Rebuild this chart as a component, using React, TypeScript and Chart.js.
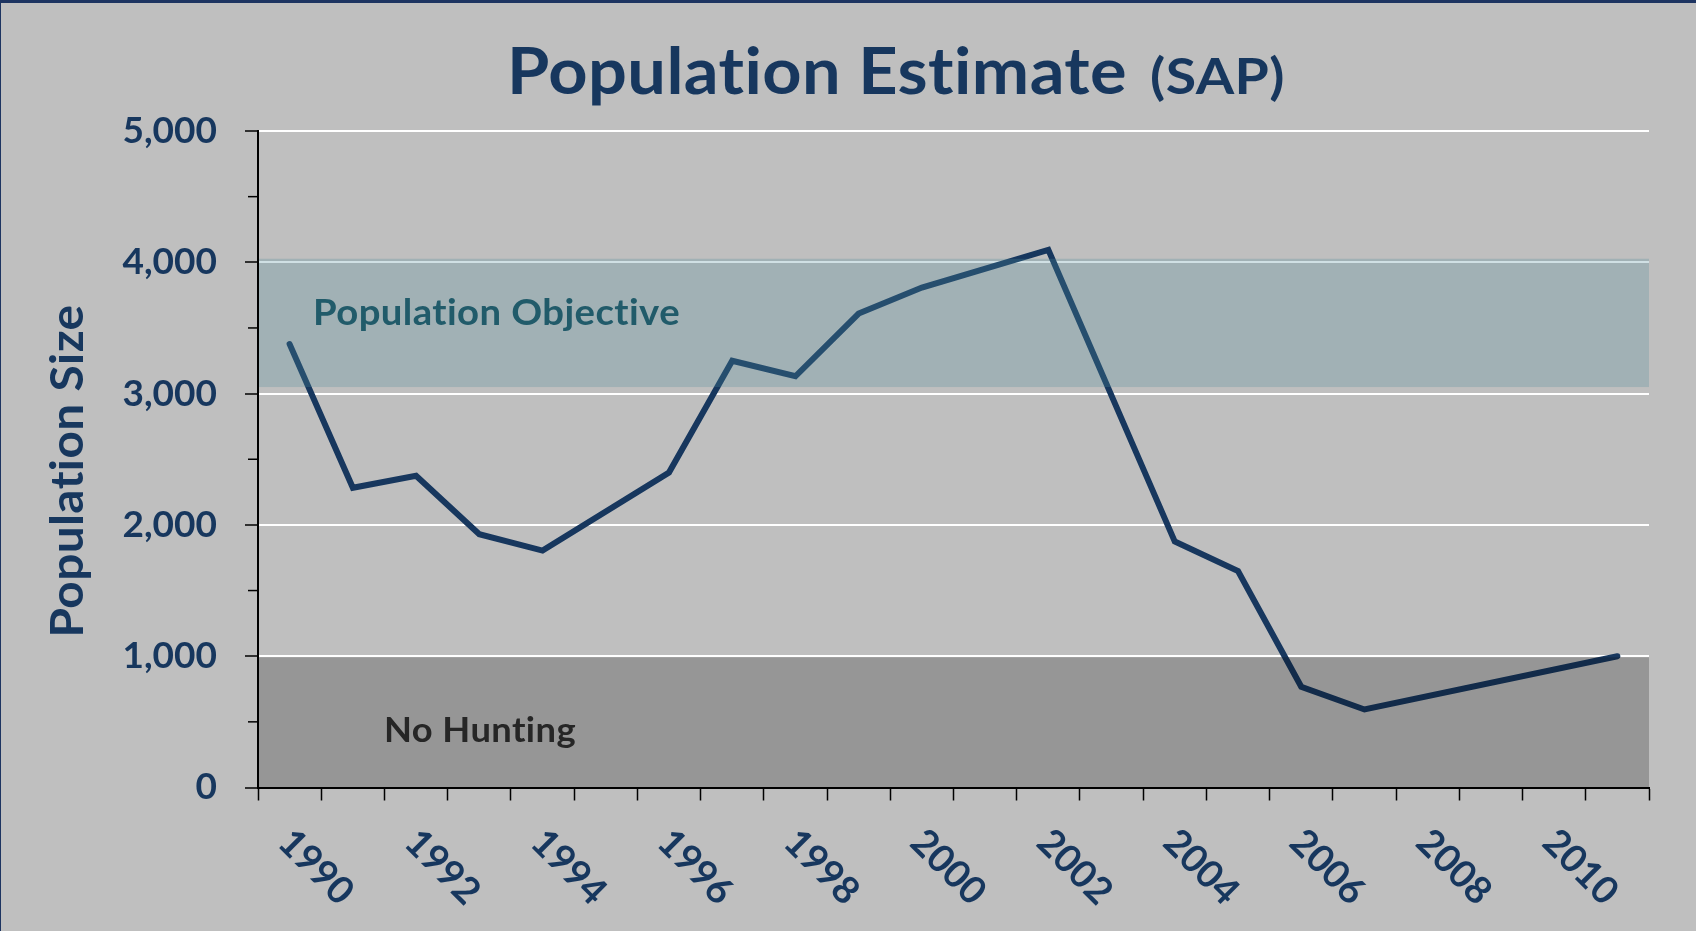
import { useEffect, useRef } from 'react';
import { Chart, registerables } from 'chart.js';

Chart.register(...registerables);

// ---- data ----
const years = ['1990', '1991', '1992', '1993', '1994', '1995', '1996', '1997', '1998', '1999', '2000',
  '2001', '2002', '2003', '2004', '2005', '2006', '2007', '2008', '2009', '2010', '2011'];
const population = [3377, 2283, 2374, 1929, 1804, null, 2399, 3250, 3132, 3610, 3808,
  null, 4095, null, 1873, 1649, 767, 594, null, null, null, 1000];
const shownYearLabels = ['1990', '1992', '1994', '1996', '1998', '2000', '2002', '2004', '2006', '2008', '2010'];
const objectiveBand = [3050, 4027];
const noHuntingBand = [0, 992];
const yMajorStep = 1000;
const yMinorStep = 500;
const yMax = 5000;
const titleMain = 'Population Estimate';
const titleSub = '(SAP)';
const yTitle = 'Population Size';
const objectiveLabel = 'Population Objective';
const noHuntingLabel = 'No Hunting';

const NAVY = '#17375e';
const FONT = 'Lato, "Open Sans", sans-serif';

function fitText(ctx: CanvasRenderingContext2D, text: string, x: number, y: number, font: string,
  targetWidth: number, color: string, align: CanvasTextAlign = 'left', rotate = 0) {
  ctx.save();
  ctx.font = font;
  // non-zero letter spacing disables ligatures (e.g. "ti")
  (ctx as any).letterSpacing = '0.4px';
  const w = ctx.measureText(text).width;
  const sx = targetWidth / w;
  ctx.translate(x, y);
  if (rotate) ctx.rotate(rotate);
  ctx.scale(sx, 1);
  ctx.fillStyle = color;
  ctx.textAlign = align;
  ctx.textBaseline = 'alphabetic';
  ctx.fillText(text, 0, 0);
  ctx.restore();
}

const decorPlugin = {
  id: 'decor',
  beforeDraw(chart: any) {
    const ctx = chart.ctx as CanvasRenderingContext2D;
    ctx.save();
    ctx.fillStyle = '#bfbfbf';
    ctx.fillRect(0, 0, chart.width, chart.height);
    ctx.fillStyle = '#1d3461';
    ctx.fillRect(0, 0, chart.width, 3);
    ctx.fillRect(0, 0, 1, chart.height);
    ctx.restore();
  },
  afterDatasetsDraw(chart: any) {
    const ctx = chart.ctx as CanvasRenderingContext2D;
    const { left, right } = chart.chartArea;
    const ys = chart.scales.y;
    const xs = chart.scales.x;
    ctx.save();
    // bands (drawn over the line)
    const oTop = ys.getPixelForValue(objectiveBand[1]);
    const oBot = ys.getPixelForValue(objectiveBand[0]);
    ctx.fillStyle = 'rgba(80,139,154,0.27)';
    ctx.fillRect(left + 1, oTop, right - left - 1, oBot - oTop);
    const nTop = ys.getPixelForValue(noHuntingBand[1]);
    const nBot = ys.getPixelForValue(noHuntingBand[0]);
    ctx.fillStyle = 'rgba(0,0,0,0.21)';
    ctx.fillRect(left + 1, nTop, right - left - 1, nBot - nTop);

    // minor y ticks
    ctx.strokeStyle = '#000';
    ctx.lineWidth = 1.5;
    for (let v = yMinorStep; v < yMax; v += yMajorStep) {
      const y = ys.getPixelForValue(v);
      ctx.beginPath();
      ctx.moveTo(left - 10, y);
      ctx.lineTo(left, y);
      ctx.stroke();
    }
    ctx.restore();

    // band labels
    fitText(ctx, objectiveLabel, 313, 325, `bold 37px ${FONT}`, 367, '#215b6a');
    fitText(ctx, noHuntingLabel, 384, 742, `bold 35px ${FONT}`, 192, '#262626');

    // x labels rotated 45° clockwise
    ctx.save();
    ctx.font = `bold 38px ${FONT}`;
    ctx.fillStyle = NAVY;
    ctx.textAlign = 'left';
    ctx.textBaseline = 'middle';
    shownYearLabels.forEach((lab) => {
      const idx = years.indexOf(lab);
      const x = xs.getPixelForValue(idx);
      ctx.save();
      ctx.translate(x - 5, 836);
      ctx.rotate(Math.PI / 4);
      ctx.fillText(lab, 0, 0);
      ctx.restore();
    });
    ctx.restore();

    // title
    fitText(ctx, titleMain, 507, 94, `bold 65px ${FONT}`, 620, NAVY);
    fitText(ctx, titleSub, 1150, 94, `bold 49px ${FONT}`, 135, NAVY);

    // y axis title
    fitText(ctx, yTitle, 83, 471, `bold 46px ${FONT}`, 333, NAVY, 'center', -Math.PI / 2);
  },
};

export default function App() {
  const ref = useRef<HTMLCanvasElement | null>(null);
  useEffect(() => {
    document.body.style.margin = '0';
    const canvas = ref.current;
    if (!canvas) return;
    const chart = new Chart(canvas, {
      type: 'line',
      data: {
        labels: years,
        datasets: [{
          label: 'Population',
          data: population,
          borderColor: NAVY,
          backgroundColor: NAVY,
          borderWidth: 6,
          pointRadius: 0,
          spanGaps: true,
          tension: 0,
          borderJoinStyle: 'miter',
          borderCapStyle: 'round',
        }],
      },
      options: {
        responsive: false,
        animation: false,
        layout: { padding: { left: 0, right: 47, top: 131, bottom: 0 } },
        plugins: { legend: { display: false }, title: { display: false }, tooltip: { enabled: false } },
        scales: {
          x: {
            type: 'category',
            offset: true,
            grid: {
              offset: true,
              drawOnChartArea: false,
              drawTicks: true,
              tickLength: 13,
              tickColor: '#000',
              tickWidth: 1.5,
            },
            ticks: { display: false, autoSkip: false },
            border: { color: '#000', width: 2 },
            afterFit: (s: any) => { s.height = 143.5; },
          },
          y: {
            min: 0,
            max: yMax,
            ticks: {
              stepSize: yMinorStep,
              autoSkip: false,
              color: NAVY,
              padding: 28,
              font: { family: FONT, weight: 'bold', size: 37 },
              callback: (v: any) => (Number(v) % yMajorStep === 0 ? Number(v).toLocaleString('en-US') : ''),
            },
            grid: {
              color: (c: any) => (c.tick && c.tick.value % yMajorStep === 0 ? '#ffffff' : 'rgba(0,0,0,0)'),
              lineWidth: 2,
              tickLength: 13,
              tickWidth: 1.5,
              tickColor: (c: any) => (c.tick && c.tick.value % yMajorStep === 0 ? '#000' : 'rgba(0,0,0,0)'),
            },
            border: { color: '#000', width: 2 },
            afterFit: (s: any) => { s.width = 258; },
          },
        },
      },
      plugins: [decorPlugin],
    } as any);
    return () => chart.destroy();
  }, []);
  return (
    <div style={{ position: 'fixed', left: 0, top: 0, width: 1696, height: 931, background: '#bfbfbf' }}>
      <canvas ref={ref} width={1696} height={931} style={{ display: 'block', width: 1696, height: 931 }} />
    </div>
  );
}
